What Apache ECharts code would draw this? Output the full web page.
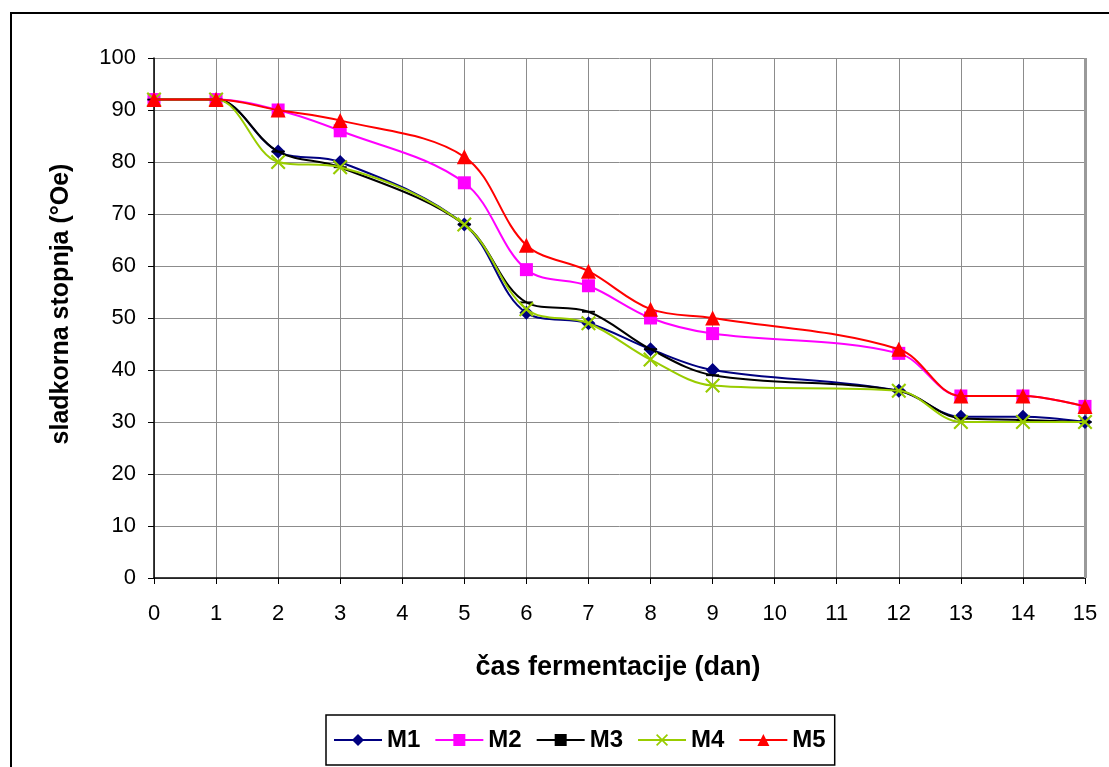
<!DOCTYPE html>
<html><head><meta charset="utf-8">
<script src="https://cdn.jsdelivr.net/npm/echarts@6/dist/echarts.min.js"></script>
<style>
html,body{margin:0;padding:0;background:#fff;}
#frame{position:absolute;left:10px;top:12px;width:1200px;height:900px;border-left:2px solid #000;border-top:2px solid #000;}
#c{position:absolute;left:0;top:0;width:1109px;height:767px;}
</style></head>
<body><div id="frame"></div><div id="c"></div>
<script>
const days = [0, 1, 2, 3, 5, 6, 7, 8, 9, 12, 13, 14, 15];
const M1 = [92, 92, 82, 80, 68, 51, 49, 44, 40, 36, 31, 31, 30];
const M2 = [92, 92, 90, 86, 76, 59.3, 56.2, 50, 47, 43.2, 35, 35, 33];
const M3 = [92, 92, 82, 79, 68, 53, 51.2, 44, 39, 36, 30.7, 30.4, 30];
const M4 = [92, 92, 80, 79, 68, 51.7, 49, 42, 37, 36, 30, 30, 30];
const M5 = [92, 92, 90, 88, 81, 64, 59, 51.7, 50, 44, 35, 35, 33];
const names = ['M1', 'M2', 'M3', 'M4', 'M5'];
const values = [M1, M2, M3, M4, M5];
const colors = ['#000080', '#FF00FF', '#000000', '#99CC00', '#FF0000'];
const xPath = 'path://M0,1L1,0L5,4L9,0L10,1L6,5L10,9L9,10L5,6L1,10L0,9L4,5Z';
const dashPath = 'path://M0,0H13V5H0Z';
const symbols = ['diamond', 'rect', dashPath, xPath, 'triangle'];
const sizes = [14, 13, [13, 5], 15, 15];

const font = '"Liberation Sans", Arial, sans-serif';
const chart = echarts.init(document.getElementById('c'));
chart.setOption({
  animation: false,
  textStyle: { fontFamily: font },
  grid: { left: 154, top: 58, width: 931, height: 520, containLabel: false },
  xAxis: {
    type: 'value', min: 0, max: 15, interval: 1,
    axisLine: { onZero: false, lineStyle: { color: '#000', width: 1.5 } },
    axisTick: { show: true, length: 6, lineStyle: { color: '#000' } },
    axisLabel: { color: '#000', fontSize: 22, margin: 25, fontFamily: font },
    splitLine: { show: true, lineStyle: { color: '#8c8c8c', width: 1 } }
  },
  yAxis: {
    type: 'value', min: 0, max: 100, interval: 10,
    axisLine: { show: true, lineStyle: { color: '#000', width: 1.5 } },
    axisTick: { show: true, inside: false, length: 6, lineStyle: { color: '#000' } },
    axisLabel: { color: '#000', fontSize: 22, margin: 18, fontFamily: font },
    splitLine: { show: true, lineStyle: { color: '#8c8c8c', width: 1 } },
    name: 'sladkorna stopnja (°Oe)', nameLocation: 'middle', nameGap: 80, nameRotate: 90,
    nameTextStyle: { color: '#000', fontSize: 25, fontWeight: 'bold', fontFamily: font, padding: [0, 0, 0, 28] }
  },
  legend: {
    left: 326, top: 715,
    padding: [12, 9, 12, 7],
    borderColor: '#000', borderWidth: 1.5, borderRadius: 0,
    itemWidth: 48, itemHeight: 15, itemGap: 14,
    textStyle: { color: '#000', fontSize: 24, fontWeight: 'bold', fontFamily: font, lineHeight: 26 },
    data: names
  },
  graphic: [
    { type: 'text', x: 618, y: 668, style: { text: 'čas fermentacije (dan)', textAlign: 'center', textVerticalAlign: 'middle', fontSize: 27, fontWeight: 'bold', fill: '#000', fontFamily: font } },
    { type: 'rect', x: 1084, y: 58, shape: { width: 3, height: 520 }, style: { fill: '#9a9a9a' }, z: 1 }
  ],
  series: names.map((n, i) => ({
    name: n, type: 'line', smooth: 0.35,
    data: days.map((d, j) => [d, values[i][j]]),
    symbol: symbols[i], symbolSize: sizes[i], symbolKeepAspect: true,
    showAllSymbol: true,
    z: 2 + i,
    lineStyle: { color: colors[i], width: 2 },
    itemStyle: { color: colors[i], borderWidth: 0 }
  }))
});
</script></body></html>
